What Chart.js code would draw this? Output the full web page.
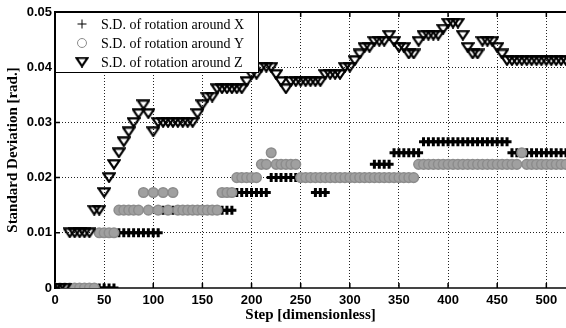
<!DOCTYPE html>
<html>
<head>
<meta charset="utf-8">
<script src="https://cdn.jsdelivr.net/npm/chart.js@4"></script>
<style>
  body { margin: 0; background: #fff; }
  #wrap { width: 566px; height: 328px; position: relative; }
</style>
</head>
<body>
<div id="wrap"><canvas id="chart"></canvas></div>
<script>
// step numbers (sampled every 5 steps)
const steps = [0,5,10,15,20,25,30,35,40,45,50,55,60,65,70,75,80,85,90,95,
  100,105,110,115,120,125,130,135,140,145,150,155,160,165,170,175,180,185,190,195,
  200,205,210,215,220,225,230,235,240,245,250,255,260,265,270,275,280,285,290,295,
  300,305,310,315,320,325,330,335,340,345,350,355,360,365,370,375,380,385,390,395,
  400,405,410,415,420,425,430,435,440,445,450,455,460,465,470,475,480,485,490,495,
  500,505,510,515,520];

// S.D. of rotation around X
const sdX = [0,0,0,0,0,0,0,0,0,0,0,0,0,
  0.01,0.01,0.01,0.01,0.01,0.01,0.01,0.01,0.01,
  0.0141,0.0141,0.0141,0.0141,0.0141,0.0141,0.0141,0.0141,0.0141,0.0141,0.0141,0.0141,0.0141,0.0141,0.0141,
  0.0173,0.0173,0.0173,0.0173,0.0173,0.0173,0.0173,
  0.02,0.02,0.02,0.02,0.02,0.02,0.02,0.02,0.02,
  0.0173,0.0173,0.0173,
  0.02,0.02,0.02,0.02,0.02,0.02,0.02,0.02,0.02,
  0.0224,0.0224,0.0224,0.0224,
  0.0245,0.0245,0.0245,0.0245,0.0245,0.0245,
  0.0265,0.0265,0.0265,0.0265,0.0265,0.0265,0.0265,0.0265,0.0265,0.0265,0.0265,0.0265,0.0265,0.0265,0.0265,0.0265,0.0265,0.0265,
  0.0245,0.0245,0.0245,0.0245,0.0245,0.0245,0.0245,0.0245,0.0245,0.0245,0.0245,0.0245];

// S.D. of rotation around Y
const sdY = [0,0,0,0,0,0,0,0,0,
  0.01,0.01,0.01,0.01,
  0.0141,0.0141,0.0141,0.0141,0.0141,
  0.0173,0.0141,0.0173,0.0141,0.0173,0.0141,0.0173,
  0.0141,0.0141,0.0141,0.0141,0.0141,0.0141,0.0141,0.0141,0.0141,
  0.0173,0.0173,0.0173,
  0.02,0.02,0.02,0.02,0.02,
  0.0224,0.0224,0.0245,0.0224,0.0224,0.0224,0.0224,0.0224,
  0.02,0.02,0.02,0.02,0.02,0.02,0.02,0.02,0.02,0.02,0.02,0.02,
  0.02,0.02,0.02,0.02,0.02,0.02,0.02,0.02,0.02,0.02,0.02,0.02,
  0.0224,0.0224,0.0224,0.0224,0.0224,0.0224,0.0224,0.0224,0.0224,0.0224,0.0224,
  0.0224,0.0224,0.0224,0.0224,0.0224,0.0224,0.0224,0.0224,0.0224,0.0224,
  0.0245,
  0.0224,0.0224,0.0224,0.0224,0.0224,0.0224,0.0224,0.0224,0.0224];

// S.D. of rotation around Z
const sdZ = [0,0,0,
  0.01,0.01,0.01,0.01,0.01,
  0.0141,0.0141,
  0.0173,0.02,0.0224,0.0245,0.0265,0.0283,0.03,0.0316,0.0332,0.0316,0.0283,
  0.03,0.03,0.03,0.03,0.03,0.03,0.03,0.03,
  0.0316,0.0332,0.0346,0.0346,
  0.0361,0.0361,0.0361,0.0361,0.0361,0.0361,
  0.0374,0.0387,0.0387,0.04,0.04,0.04,0.0387,0.0374,0.0361,
  0.0374,0.0374,0.0374,0.0374,0.0374,0.0374,0.0374,
  0.0387,0.0387,0.0387,0.0387,
  0.04,0.04,0.0412,0.0424,0.0436,0.0436,0.0447,0.0447,0.0447,0.0458,0.0447,
  0.0436,0.0436,0.0424,0.0424,0.0447,0.0458,0.0458,0.0458,0.0458,0.0469,
  0.048,0.048,0.048,0.0458,0.0436,0.0424,0.0424,0.0447,0.0447,0.0447,0.0436,0.0424,
  0.0412,0.0412,0.0412,0.0412,0.0412,0.0412,0.0412,0.0412,0.0412,0.0412,0.0412,0.0412,0.0412];

const seriesNames = ['S.D. of rotation around X', 'S.D. of rotation around Y', 'S.D. of rotation around Z'];
const xTicks = [0,50,100,150,200,250,300,350,400,450,500];
const yTicks = [0,0.01,0.02,0.03,0.04,0.05];

const toPoints = vals => steps.map((s, i) => ({ x: s, y: vals[i] }));

// wide downward triangle marker
const triMarker = document.createElement('canvas');
triMarker.width = 14;
triMarker.height = 11;
{
  const c = triMarker.getContext('2d');
  c.strokeStyle = '#000';
  c.lineWidth = 2.2;
  c.beginPath();
  c.moveTo(1.3, 1.3);
  c.lineTo(12.7, 1.3);
  c.lineTo(7, 9.7);
  c.closePath();
  c.stroke();
}

// inner tick marks, top border and boxed legend
const framePlugin = {
  id: 'frame',
  afterDatasetsDraw(chart) {
    const { ctx, chartArea: a, scales } = chart;
    ctx.save();
    ctx.strokeStyle = '#000';
    ctx.lineWidth = 1.5;
    ctx.beginPath();
    xTicks.forEach(v => {
      const px = scales.x.getPixelForValue(v);
      ctx.moveTo(px, a.bottom); ctx.lineTo(px, a.bottom - 5);
      ctx.moveTo(px, a.top); ctx.lineTo(px, a.top + 5);
    });
    yTicks.forEach(v => {
      const py = scales.y.getPixelForValue(v);
      ctx.moveTo(a.left, py); ctx.lineTo(a.left + 5, py);
    });
    ctx.stroke();

    // legend
    const lx = a.left, ly = a.top, lw = 203, lh = 60;
    ctx.fillStyle = '#fff';
    ctx.fillRect(lx, ly, lw, lh);
    ctx.lineWidth = 1;
    ctx.strokeStyle = '#000';
    ctx.strokeRect(lx + 0.5, ly + 0.5, lw, lh);
    ctx.font = '14px "Liberation Serif", serif';
    ctx.textBaseline = 'middle';
    ctx.textAlign = 'left';
    chart.data.datasets.forEach((ds, i) => {
      const y = ly + 12 + i * 19;
      ctx.strokeStyle = ds.borderColor;
      ctx.fillStyle = 'rgba(0,0,0,0)';
      ctx.lineWidth = 1;
      Chart.helpers.drawPoint(ctx, {
        pointStyle: ds.pointStyle, radius: 4.5,
        rotation: 0, borderWidth: 1
      }, lx + 27, y);
      ctx.fillStyle = '#000';
      ctx.fillText(ds.label, lx + 46, y + 1);
    });

    // top border
    ctx.lineWidth = 2;
    ctx.strokeStyle = '#000';
    ctx.beginPath();
    ctx.moveTo(a.left, a.top); ctx.lineTo(a.right, a.top);
    ctx.stroke();
    ctx.restore();
  }
};

new Chart(document.getElementById('chart'), {
  type: 'scatter',
  data: {
    datasets: [
      {
        label: seriesNames[0], data: toPoints(sdX), order: 3,
        pointStyle: 'cross', pointRadius: 4.5, borderWidth: 3,
        borderColor: '#000', backgroundColor: '#000'
      },
      {
        label: seriesNames[1], data: toPoints(sdY), order: 2,
        pointStyle: 'circle', pointRadius: 4.8, borderWidth: 1.5,
        borderColor: '#8c8c8c', backgroundColor: '#a0a0a0'
      },
      {
        label: seriesNames[2], data: toPoints(sdZ), order: 1,
        pointStyle: triMarker, pointRadius: 6,
        borderColor: '#000', backgroundColor: 'rgba(255,255,255,0)'
      }
    ]
  },
  options: {
    responsive: true,
    maintainAspectRatio: false,
    animation: false,
    events: [],
    layout: { autoPadding: false, padding: { top: 12, right: 0, left: 0, bottom: 0 } },
    plugins: { legend: { display: false }, tooltip: { enabled: false } },
    scales: {
      x: {
        type: 'linear', min: 0, max: 520,
        afterBuildTicks: s => { s.ticks = xTicks.map(v => ({ value: v })); },
        afterFit: s => { s.height = 40; },
        ticks: { color: '#000', padding: 5, maxRotation: 0, font: { family: '"Liberation Sans", Arial', size: 13, weight: 'bold' } },
        grid: { color: '#222', lineWidth: 1, drawTicks: false },
        border: { color: '#444', width: 2, dash: [1, 2] },
        title: {
          display: true, text: 'Step [dimensionless]', color: '#000',
          padding: { top: 0, bottom: 4 },
          font: { family: '"Liberation Serif", serif', size: 15, weight: 'bold' }
        }
      },
      y: {
        min: 0, max: 0.05,
        afterBuildTicks: s => { s.ticks = yTicks.map(v => ({ value: v })); },
        afterFit: s => { s.width = 55; },
        ticks: {
          color: '#000', padding: 3,
          font: { family: '"Liberation Sans", Arial', size: 13, weight: 'bold' },
          callback: v => v === 0 ? '0' : v.toFixed(2)
        },
        grid: { color: '#222', lineWidth: 1, drawTicks: false },
        border: { color: '#000', width: 2, dash: [1, 2] },
        title: {
          display: true, text: 'Standard Deviation [rad.]', color: '#000',
          padding: { top: 4, bottom: 0 },
          font: { family: '"Liberation Serif", serif', size: 15, weight: 'bold' }
        }
      }
    }
  },
  plugins: [framePlugin]
});
</script>
</body>
</html>
